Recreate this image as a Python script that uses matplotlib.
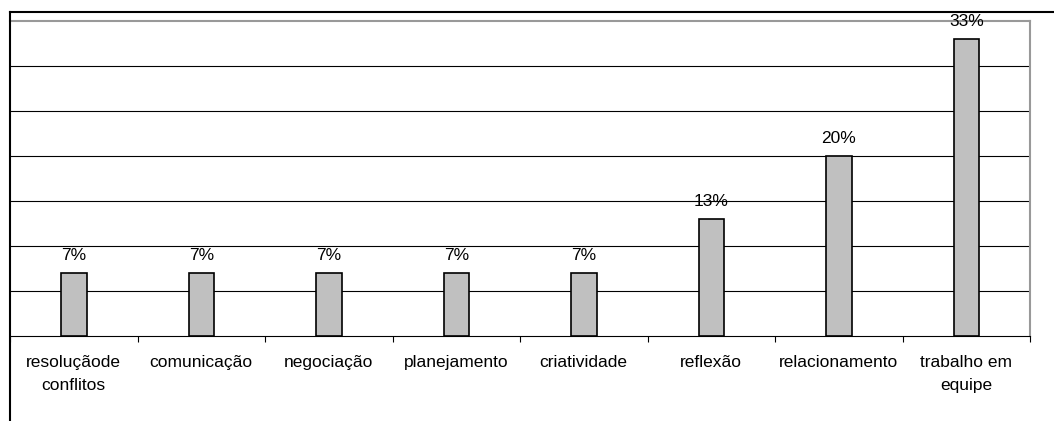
import matplotlib
matplotlib.use('Agg')
import matplotlib.pyplot as plt
from matplotlib.lines import Line2D
import numpy as np

plt.rcParams['font.family'] = ['Liberation Sans', 'DejaVu Sans']

#categories and percentages
categorias = ['resoluçãode\nconflitos', 'comunicação', 'negociação', 'planejamento',
              'criatividade', 'reflexão', 'relacionamento', 'trabalho em\nequipe']
valores = [7, 7, 7, 7, 7, 13, 20, 33]
rotulos = ['7%', '7%', '7%', '7%', '7%', '13%', '20%', '33%']

W, H = 1054, 421
fig = plt.figure(figsize=(W/100.0, H/100.0), dpi=100)
ax = fig.add_axes([10.0/W, 1-336.0/H, 1020.0/W, 315.0/H])

x = np.arange(len(valores))
ax.bar(x, valores, width=0.2, color='#C0C0C0', edgecolor='black', linewidth=1.2, zorder=3)

for xi, v, r in zip(x, valores, rotulos):
    ax.annotate(r, (xi, v), xytext=(0, 7), textcoords='offset points',
                ha='center', va='bottom', fontsize=12.5, zorder=4)

ax.set_xlim(-0.5, len(valores)-0.5)
ax.set_ylim(0, 35)
ax.set_yticks([])
for yy in range(5, 35, 5):
    ax.axhline(yy, color='black', lw=0.8, zorder=1)

#ticks at category boundaries, labels centred under the bars
ax.set_xticks(np.arange(len(valores)+1)-0.5)
ax.set_xticklabels([])
ax.set_xticks(x, minor=True)
ax.set_xticklabels(categorias, minor=True, fontsize=12.5, linespacing=1.6)
ax.tick_params(axis='x', which='major', length=4, width=0.8, color='black', direction='out')
ax.tick_params(axis='x', which='minor', length=0, pad=14)

ax.spines['top'].set_color('#999999')
ax.spines['right'].set_color('#999999')
ax.spines['top'].set_linewidth(1.5)
ax.spines['right'].set_linewidth(1.5)
ax.spines['bottom'].set_color('black')
ax.spines['bottom'].set_linewidth(0.8)
ax.spines['left'].set_visible(False)

#outer frame, cut at the right and bottom edge
fig.add_artist(Line2D([10.0/W, 1], [1-12.0/H, 1-12.0/H], color='black', lw=1.5))
fig.add_artist(Line2D([10.0/W, 10.0/W], [0, 1-12.0/H], color='black', lw=1.5))

fig.savefig('out.png', dpi=100)
plt.close()
